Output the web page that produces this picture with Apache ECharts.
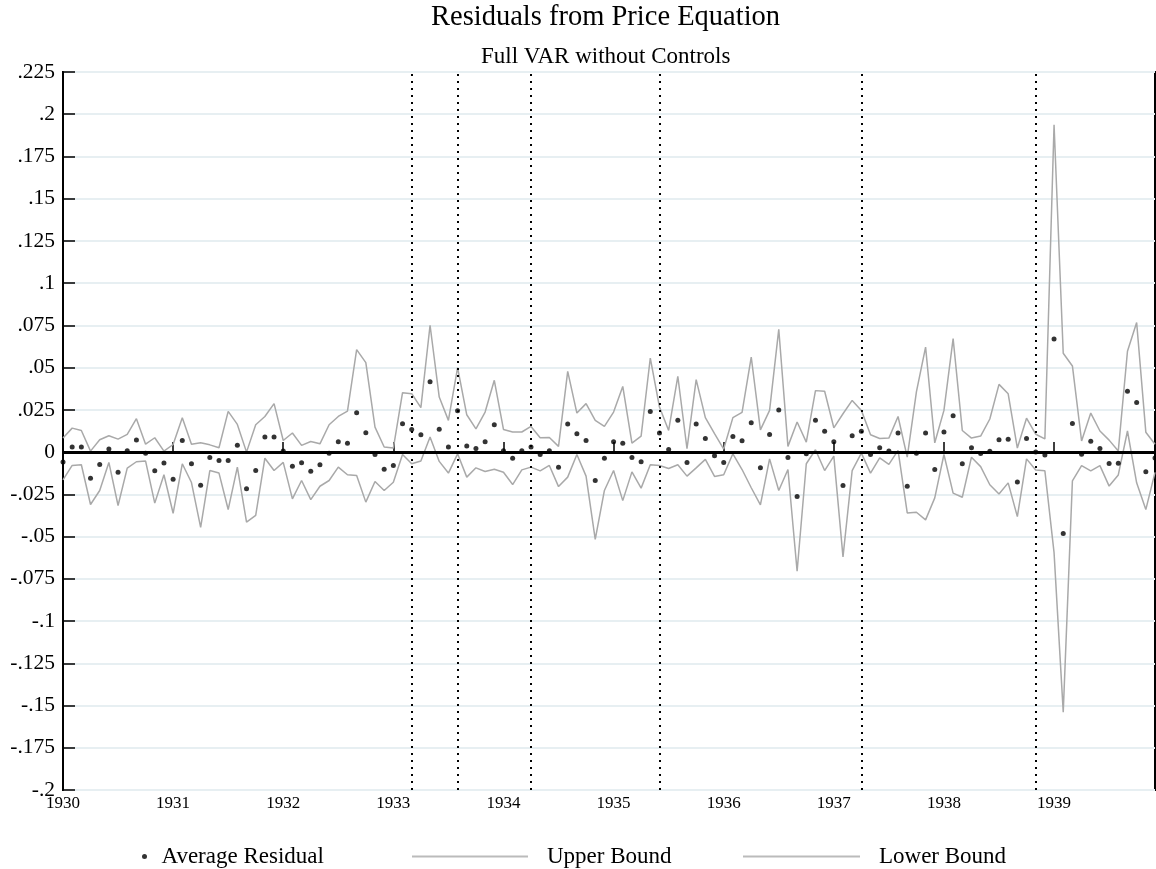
<!DOCTYPE html>
<html>
<head>
<meta charset="utf-8">
<script src="https://cdn.jsdelivr.net/npm/echarts@6/dist/echarts.min.js"></script>
<style>
html,body{margin:0;padding:0;background:#fff;}
#chart{width:1156px;height:869px;}
</style>
</head>
<body>
<div id="chart"></div>
<script>
// Years shown as tick labels (monthly data, Jan 1930 - Dec 1939)
const years = [1930, 1931, 1932, 1933, 1934, 1935, 1936, 1937, 1938, 1939];

// Average residual (dots)
const avgResidual = [
  -0.0059, 0.0030, 0.0030, -0.0154, -0.0073, 0.0018, -0.0119, 0.0008, 0.0071, -0.0006, -0.0111, -0.0065,
  -0.0160, 0.0069, -0.0069, -0.0196, -0.0032, -0.0049, -0.0049, 0.0040, -0.0217, -0.0109, 0.0089, 0.0089,
  0.0006, -0.0083, -0.0063, -0.0113, -0.0075, -0.0006, 0.0061, 0.0053, 0.0233, 0.0115, -0.0014, -0.0101,
  -0.0079, 0.0168, 0.0134, 0.0103, 0.0417, 0.0136, 0.0030, 0.0245, 0.0036, 0.0022, 0.0061, 0.0162,
  0.0008, -0.0036, 0.0008, 0.0030, -0.0014, 0.0008, -0.0089, 0.0166, 0.0109, 0.0069, -0.0168, -0.0036,
  0.0061, 0.0053, -0.0032, -0.0057, 0.0241, 0.0113, 0.0016, 0.0188, -0.0061, 0.0166, 0.0081, -0.0022,
  -0.0061, 0.0093, 0.0067, 0.0174, -0.0093, 0.0105, 0.0249, -0.0032, -0.0263, -0.0010, 0.0188, 0.0124,
  0.0061, -0.0198, 0.0097, 0.0124, -0.0014, 0.0026, 0.0006, 0.0113, -0.0202, -0.0006, 0.0113, -0.0103,
  0.0119, 0.0215, -0.0069, 0.0026, -0.0008, 0.0005, 0.0073, 0.0076, -0.0177, 0.0080, 0.0000, -0.0017,
  0.0670, -0.0481, 0.0170, -0.0012, 0.0064, 0.0021, -0.0068, -0.0066, 0.0361, 0.0293, -0.0116, -0.0035
];

// Upper bound
const upperBound = [
  0.0083, 0.0142, 0.0128, 0.0006, 0.0073, 0.0097, 0.0077, 0.0105, 0.0198, 0.0047, 0.0085, 0.0006,
  0.0045, 0.0204, 0.0047, 0.0055, 0.0043, 0.0026, 0.0241, 0.0164, 0.0000, 0.0162, 0.0211, 0.0287,
  0.0069, 0.0113, 0.0040, 0.0063, 0.0049, 0.0162, 0.0211, 0.0243, 0.0607, 0.0530, 0.0148, 0.0030,
  0.0024, 0.0352, 0.0346, 0.0263, 0.0751, 0.0326, 0.0188, 0.0500, 0.0221, 0.0138, 0.0237, 0.0425,
  0.0134, 0.0119, 0.0119, 0.0152, 0.0085, 0.0087, 0.0034, 0.0478, 0.0231, 0.0287, 0.0188, 0.0152,
  0.0237, 0.0389, 0.0053, 0.0095, 0.0557, 0.0267, 0.0128, 0.0449, 0.0020, 0.0429, 0.0204, 0.0109,
  0.0018, 0.0204, 0.0235, 0.0563, 0.0132, 0.0247, 0.0727, 0.0034, 0.0178, 0.0059, 0.0364, 0.0360,
  0.0144, 0.0227, 0.0306, 0.0247, 0.0103, 0.0081, 0.0083, 0.0211, -0.0030, 0.0356, 0.0622, 0.0055,
  0.0247, 0.0672, 0.0128, 0.0083, 0.0095, 0.0196, 0.0401, 0.0345, 0.0024, 0.0201, 0.0106, 0.0078,
  0.1938, 0.0585, 0.0510, 0.0066, 0.0231, 0.0125, 0.0071, 0.0007, 0.0597, 0.0767, 0.0118, 0.0047
];

// Lower bound
const lowerBound = [
  -0.0164, -0.0079, -0.0075, -0.0310, -0.0227, -0.0061, -0.0316, -0.0095, -0.0057, -0.0053, -0.0302, -0.0134,
  -0.0362, -0.0069, -0.0180, -0.0445, -0.0109, -0.0124, -0.0340, -0.0089, -0.0415, -0.0375, -0.0036, -0.0109,
  -0.0061, -0.0277, -0.0168, -0.0281, -0.0202, -0.0168, -0.0089, -0.0134, -0.0138, -0.0296, -0.0174, -0.0227,
  -0.0178, -0.0014, -0.0069, -0.0053, 0.0089, -0.0055, -0.0124, -0.0010, -0.0148, -0.0093, -0.0115, -0.0101,
  -0.0119, -0.0192, -0.0105, -0.0089, -0.0111, -0.0079, -0.0204, -0.0148, -0.0014, -0.0142, -0.0516, -0.0227,
  -0.0109, -0.0287, -0.0117, -0.0213, -0.0075, -0.0079, -0.0097, -0.0075, -0.0142, -0.0093, -0.0043, -0.0144,
  -0.0134, -0.0010, -0.0103, -0.0211, -0.0312, -0.0040, -0.0227, -0.0103, -0.0705, -0.0069, 0.0014, -0.0109,
  -0.0024, -0.0620, -0.0109, -0.0006, -0.0124, -0.0034, -0.0073, 0.0010, -0.0360, -0.0356, -0.0401, -0.0271,
  -0.0014, -0.0243, -0.0267, -0.0030, -0.0086, -0.0193, -0.0248, -0.0182, -0.0382, -0.0040, -0.0106, -0.0111,
  -0.0595, -0.1539, -0.0170, -0.0080, -0.0111, -0.0080, -0.0201, -0.0135, 0.0125, -0.0182, -0.0340, -0.0120
];

// Months (index into the monthly categories) marked with dotted vertical lines
const eventMonths = [38, 43, 51, 65, 87, 106];

// Y axis range / step
const yMin = -0.2, yMax = 0.225, yStep = 0.025;

// Build monthly categories from the years
const months = [];
years.forEach(y => { for (let m = 1; m <= 12; m++) months.push(y + '-' + (m < 10 ? '0' + m : m)); });

const serif = '"Liberation Serif", "DejaVu Serif", serif';
const grayLine = '#a9a9a9';

function fmtY(v) {
  const r = Math.round(v * 1000) / 1000;
  if (r === 0) return '0';
  let s = String(r);
  s = s.replace('0.', '.');
  return s;
}

const chart = echarts.init(document.getElementById('chart'), null, { renderer: 'canvas' });

chart.setOption({
  animation: false,
  backgroundColor: '#ffffff',
  title: [
    { text: 'Residuals from Price Equation', left: 431, top: 3, padding: 0,
      textStyle: { fontFamily: serif, fontSize: 28.5, fontWeight: 'normal', color: '#000' } },
    { text: 'Full VAR without Controls', left: 481, top: 45, padding: 0,
      textStyle: { fontFamily: serif, fontSize: 23, fontWeight: 'normal', color: '#000' } }
  ],
  legend: [
    { data: ['Average Residual'], left: 137, top: 840, itemWidth: 24, itemHeight: 5,
      textStyle: { fontFamily: serif, fontSize: 23, color: '#000' } },
    { data: ['Upper Bound'], left: 406, top: 840, itemWidth: 116, itemHeight: 10,
      itemStyle: { opacity: 0 },
      lineStyle: { width: 2, color: '#bbbbbb' },
      textStyle: { fontFamily: serif, fontSize: 23, color: '#000', padding: [0, 0, 0, 14] } },
    { data: ['Lower Bound'], left: 737, top: 840, itemWidth: 117, itemHeight: 10,
      itemStyle: { opacity: 0 },
      lineStyle: { width: 2, color: '#bbbbbb' },
      textStyle: { fontFamily: serif, fontSize: 23, color: '#000', padding: [0, 0, 0, 14] } }
  ],
  grid: {
    left: 63, right: 1, top: 72, bottom: 79,
    show: true, borderColor: '#000', borderWidth: 2, backgroundColor: 'transparent'
  },
  xAxis: {
    type: 'category',
    data: months,
    boundaryGap: false,
    axisLine: { lineStyle: { color: '#000', width: 2 } },
    axisTick: { inside: true, length: 10, lineStyle: { color: '#000', width: 1.5 },
      interval: (i) => i % 12 === 0 },
    axisLabel: { interval: (i) => i % 12 === 0, formatter: (v) => v.slice(0, 4),
      fontFamily: serif, fontSize: 17, color: '#000', margin: 5 },
    splitLine: { show: false }
  },
  yAxis: {
    type: 'value',
    min: yMin, max: yMax, interval: yStep,
    axisLine: { show: true, lineStyle: { color: '#000', width: 2 } },
    axisTick: { show: true, inside: true, length: 12, lineStyle: { color: '#000', width: 1.5 } },
    axisLabel: { formatter: fmtY, fontFamily: serif, fontSize: 21.5, color: '#000', margin: 8 },
    splitLine: { show: true, lineStyle: { color: '#e7eff2', width: 2 } }
  },
  series: [
    {
      name: 'Upper Bound', type: 'line', data: upperBound,
      showSymbol: false, symbol: 'none',
      lineStyle: { color: grayLine, width: 1.5 }, itemStyle: { color: grayLine }, z: 3,
      markLine: {
        silent: true, symbol: 'none', label: { show: false },
        lineStyle: { color: '#000', width: 2, type: [2, 5] },
        data: eventMonths.map(i => ({ xAxis: months[i] }))
      }
    },
    {
      name: 'Lower Bound', type: 'line', data: lowerBound,
      showSymbol: false, symbol: 'none',
      lineStyle: { color: grayLine, width: 1.5 }, itemStyle: { color: grayLine }, z: 3,
      markLine: {
        silent: true, symbol: 'none', label: { show: false },
        lineStyle: { color: '#000', width: 3, type: 'solid' },
        data: [{ yAxis: 0 }]
      }
    },
    {
      name: 'Average Residual', type: 'scatter', data: avgResidual,
      symbol: 'circle', symbolSize: 5,
      itemStyle: { color: '#000' }, z: 5
    }
  ]
});
</script>
</body>
</html>
